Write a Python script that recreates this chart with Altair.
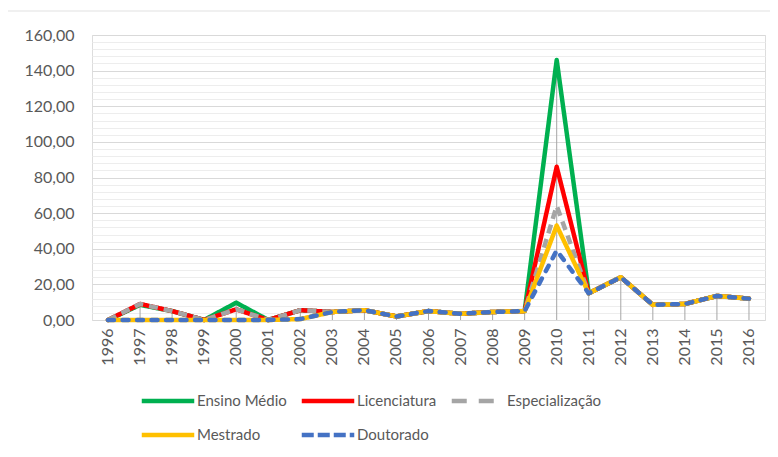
import altair as alt
import pandas as pd

years = [str(y) for y in range(1996, 2017)]
series_names = ["Ensino Médio", "Licenciatura", "Especialização", "Mestrado", "Doutorado"]

ensino_medio   = [0, 8.5, 5, 0, 9.7, 0, 5.5, 4.5, 5.5, 2, 5, 3.5, 4.5, 5, 146, 15, 24, 8.5, 9, 13.5, 12]
licenciatura   = [0, 9, 5, 0, 6, 0, 5.5, 4.5, 5.5, 2, 5, 3.5, 4.5, 5, 86, 15, 24, 8.5, 9, 13.5, 12]
especializacao = [0, 9, 5, 0, 6, 0, 5.5, 4.5, 5.5, 2, 5, 3.5, 4.5, 5, 64, 15, 24, 8.5, 9, 13.5, 12]
mestrado       = [0, 0, 0, 0, 0, 0, 0.5, 4.5, 5.5, 2, 5, 3.5, 4.5, 5, 53, 15, 24, 8.5, 9, 13.5, 12]
doutorado      = [0, 0, 0, 0, 0, 0, 0.5, 4.5, 5.5, 2, 5, 3.5, 4.5, 5, 39, 15, 24, 8.5, 9, 13.5, 12]

colors = ["#00B050", "#FF0000", "#A5A5A5", "#FFC000", "#4472C4"]
legend_dashes = [[1, 0], [1, 0], [15, 12], [1, 0], [12, 4]]
line_dashes = [[1, 0], [1, 0], [9, 6], [1, 0], [6, 8.5]]
line_caps = ["round", "round", "butt", "round", "round"]

rows = []
for name, vals in zip(series_names, [ensino_medio, licenciatura, especializacao, mestrado, doutorado]):
    for y, v in zip(years, vals):
        rows.append({"ano": y, "serie": name, "valor": v})
df = pd.DataFrame(rows)

FONT = "Lato"
TXT = "#595959"

x_enc = alt.X("ano:O", title=None, sort=years,
              axis=alt.Axis(labelAngle=-90, labelFont=FONT, labelFontSize=16, labelColor=TXT,
                            ticks=False, domain=False, labelPadding=8))

legend = alt.Legend(orient="none", legendX=47, legendY=353, direction="horizontal", columns=3,
                    title=None, symbolType="M-2.5,0H2.5", symbolSize=441, symbolStrokeWidth=4.5,
                    symbolOffset=16, labelOffset=16,
                    labelFont=FONT, labelFontSize=15, labelColor=TXT,
                    columnPadding=5, rowPadding=12)

color_enc = alt.Color("serie:N", scale=alt.Scale(domain=series_names, range=colors), legend=legend)
dash_enc = alt.StrokeDash("serie:N", scale=alt.Scale(domain=series_names, range=legend_dashes), legend=legend)

minor_vals = [v for v in range(0, 161, 4) if v % 20]
yscale = alt.Scale(domain=[0, 160], nice=False)

frame_src = pd.DataFrame({"k": [0]})
frame_left = alt.Chart(frame_src).mark_rule(color="#E2E2E2", strokeWidth=1.2).encode(
    x=alt.value(-86), y=alt.value(-24), y2=alt.value(440))
frame_top = alt.Chart(frame_src).mark_rule(color="#E2E2E2", strokeWidth=1.2).encode(
    x=alt.value(-86), x2=alt.value(700), y=alt.value(-24))

drop = alt.Chart(df).mark_rule(color="#A6A6A6", strokeWidth=1).encode(
    x=x_enc,
    y=alt.Y("max(valor):Q", scale=yscale,
            axis=alt.Axis(orient="right", values=minor_vals, grid=True, gridColor="#EDEDED",
                          labels=False, ticks=False, domain=False, title=None)),
    y2=alt.datum(0),
)

main_axis = alt.Axis(values=list(range(0, 161, 20)), grid=True, gridColor="#D9D9D9",
                     ticks=False, domain=False, title=None, labelFont=FONT,
                     labelFontSize=16, labelColor=TXT, labelPadding=18,
                     labelExpr="replace(format(datum.value, '.2f'), '.', ',')")

layers = [frame_left, frame_top, drop]
for i, name in enumerate(series_names):
    enc = dict(
        x=x_enc,
        y=alt.Y("valor:Q", scale=yscale, axis=main_axis if i == 0 else None),
        color=color_enc,
    )
    if i == 0:
        enc["strokeDash"] = dash_enc
    layers.append(
        alt.Chart(df).transform_filter(alt.datum.serie == name).mark_line(
            strokeWidth=4.5, strokeDash=line_dashes[i], strokeCap=line_caps[i], strokeJoin="round"
        ).encode(**enc)
    )

chart = alt.layer(*layers).resolve_axis(y="independent").properties(
    width=673, height=285,
    padding={"left": 84, "top": 27, "right": 5, "bottom": 134},
    autosize="none",
).configure_view(stroke=None).configure(background="white")

chart.save("out.html", embed_options={"renderer": "svg", "actions": False})
